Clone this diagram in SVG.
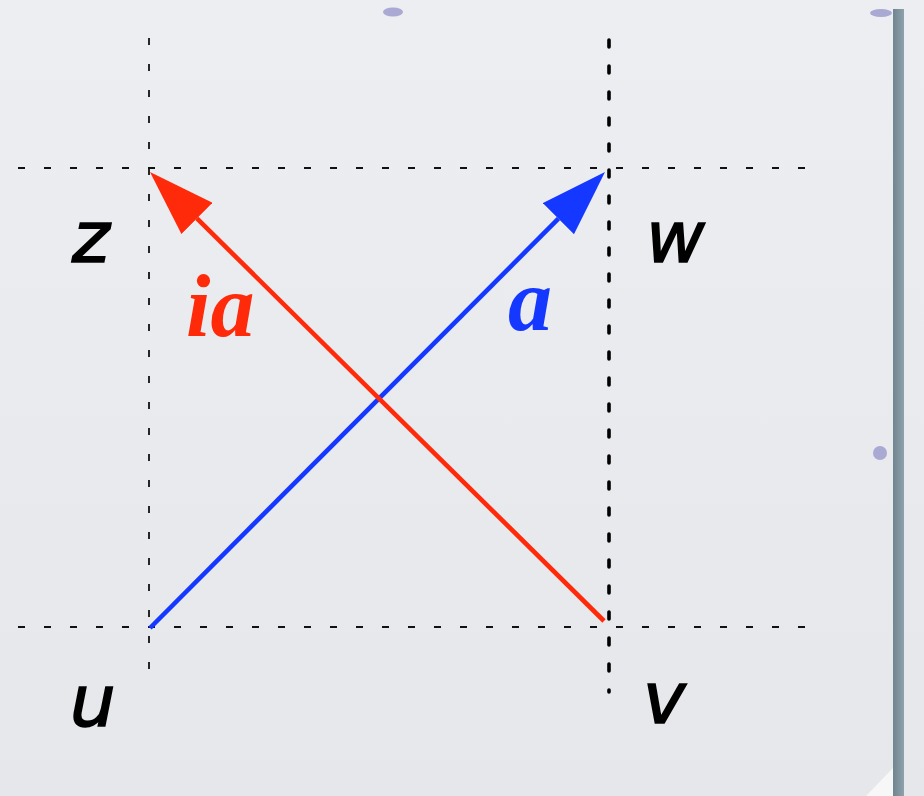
<svg xmlns="http://www.w3.org/2000/svg" width="924" height="796" viewBox="0 0 924 796">
  <defs>
    <linearGradient id="bg" x1="0" y1="0" x2="0" y2="1">
      <stop offset="0" stop-color="#eceef1"/>
      <stop offset="1" stop-color="#e6e7ea"/>
    </linearGradient>
    <linearGradient id="strip" x1="0" y1="0" x2="1" y2="0">
      <stop offset="0" stop-color="#6f8590"/>
      <stop offset="1" stop-color="#8fa2ab"/>
    </linearGradient>
    <marker id="headRed" viewBox="0 0 66 44" refX="0" refY="22" markerWidth="66" markerHeight="44" markerUnits="userSpaceOnUse" orient="auto">
      <path d="M0,0 L66,22 L0,44 Z" fill="#ff2a0a"/>
    </marker>
    <marker id="headBlue" viewBox="0 0 66 44" refX="0" refY="22" markerWidth="66" markerHeight="44" markerUnits="userSpaceOnUse" orient="auto">
      <path d="M0,0 L66,22 L0,44 Z" fill="#1438ff"/>
    </marker>
  </defs>
  <style>
    .grid-thin { stroke: #111; stroke-width: 1.8; stroke-dasharray: 7 19; fill: none; }
    .grid-thick { stroke: #000; stroke-width: 3.6; stroke-dasharray: 7 19; stroke-linecap: round; fill: none; }
    .pt { font-family: "DejaVu Sans", sans-serif; font-style: italic; font-size: 72px; fill: #000; stroke: #000; stroke-width: 1.6; }
    .vec { font-family: "Liberation Serif", serif; font-style: italic; font-weight: bold; font-size: 88px; }
    .dot { fill: #a9a9d3; }
  </style>

  <rect x="0" y="0" width="924" height="796" fill="url(#bg)"/>
  <rect x="893" y="9" width="11" height="787" fill="url(#strip)"/>
  <ellipse class="dot" cx="393" cy="12" rx="10" ry="4.5"/>
  <ellipse class="dot" cx="881" cy="13" rx="11" ry="4"/>
  <circle class="dot" cx="880" cy="453" r="7"/>
  <path d="M893,768 L893,796 L866,796 Z" fill="#f7f7f8"/>

  <g id="grid">
    <line class="grid-thin" x1="149" y1="38" x2="149" y2="670"/>
    <line class="grid-thick" x1="609" y1="40" x2="609" y2="692"/>
    <line class="grid-thin" x1="18" y1="168" x2="810" y2="168"/>
    <line class="grid-thin" x1="18" y1="627" x2="810" y2="627"/>
  </g>

  <g id="connectors">
    <line id="vec-a" x1="150" y1="628" x2="558.4" y2="218.7" stroke="#1438ff" stroke-width="4.6" marker-end="url(#headBlue)"/>
    <line id="vec-ia" x1="604" y1="621" x2="196.9" y2="218.4" stroke="#ff2a0a" stroke-width="4.6" marker-end="url(#headRed)"/>
  </g>

  <g id="node-z"><text class="pt" x="72" y="262">z</text></g>
  <g id="node-w"><text class="pt" x="646" y="262">w</text></g>
  <g id="node-u"><text class="pt" x="70" y="726">u</text></g>
  <g id="node-v"><text class="pt" x="643" y="723">v</text></g>

  <g id="label-ia"><text class="vec" x="186" y="336" fill="#ff2a0a">ia</text></g>
  <g id="label-a"><text class="vec" x="508" y="330" fill="#1438ff">a</text></g>
</svg>
